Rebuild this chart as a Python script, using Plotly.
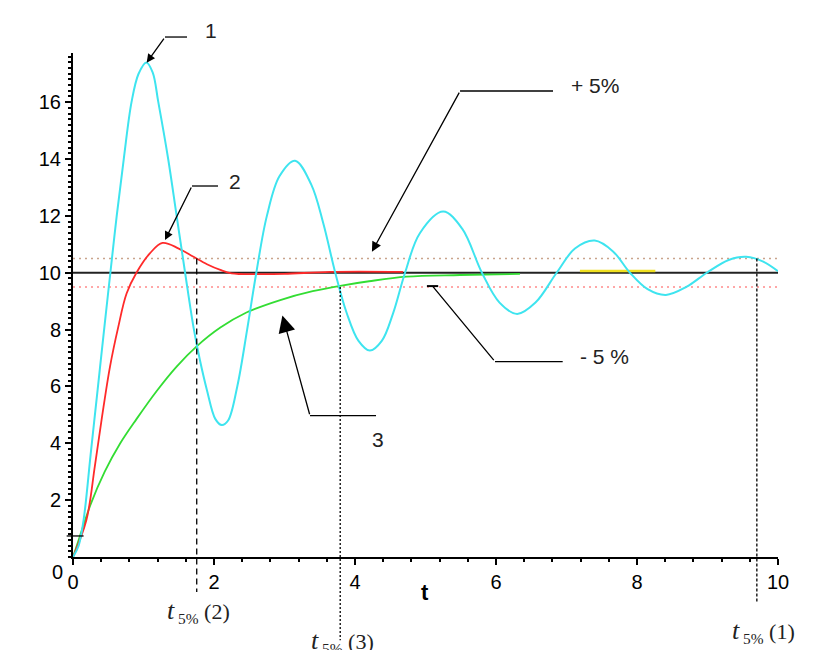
import plotly.graph_objects as go

# ---------------- data ----------------
t_cyan = [0, 0.08, 0.15, 0.25, 0.35, 0.45, 0.53, 0.62, 0.72, 0.83, 0.93, 1.04, 1.13, 1.21,
          1.35, 1.47, 1.59, 1.71, 1.80, 1.90, 2.02, 2.11, 2.20, 2.33, 2.47, 2.60, 2.75, 2.93, 3.15,
          3.38, 3.55, 3.72, 3.88, 4.05, 4.21, 4.38, 4.54, 4.71, 4.92, 5.25, 5.52, 5.80, 6.05,
          6.30, 6.56, 6.86, 7.12, 7.40, 7.66, 7.90, 8.15, 8.41, 8.70, 8.99, 9.30, 9.55, 9.79, 10.0]
y_cyan = [0, 0.4, 1.3, 3.6, 5.9, 8.2, 10.0, 12.0, 14.0, 16.0, 17.0, 17.4, 17.05, 16.0,
          14.0, 12.0, 10.0, 8.07, 6.93, 5.87, 4.85, 4.64, 4.8, 6.0, 8.0, 10.0, 12.0, 13.4, 13.94,
          13.1, 11.74, 10.0, 8.6, 7.6, 7.26, 7.6, 8.57, 10.0, 11.39, 12.15, 11.55, 10.0, 8.95,
          8.55, 8.95, 10.0, 10.85, 11.13, 10.75, 10.0, 9.42, 9.22, 9.5, 10.0, 10.45, 10.56, 10.39, 10.05]

t_red = [0, 0.19, 0.31, 0.41, 0.525, 0.64, 0.76, 0.90, 1.09, 1.27, 1.50, 1.71, 1.90, 2.09, 2.25,
         2.60, 3.00, 3.65, 4.68]
y_red = [0, 1.3, 3.2, 4.9, 6.7, 8.07, 9.27, 10.0, 10.68, 11.05, 10.85, 10.56, 10.3, 10.1, 9.98,
         9.95, 9.96, 10.03, 10.03]

t_green = [0, 0.10, 0.25, 0.45, 0.67, 0.90, 1.19, 1.47, 1.75, 2.09, 2.46, 2.94, 3.40, 3.79, 4.20,
           4.73, 5.49, 6.34]
y_green = [0, 0.75, 1.85, 3.0, 4.0, 4.85, 5.85, 6.7, 7.4, 8.07, 8.6, 9.04, 9.35, 9.54, 9.7,
           9.86, 9.92, 9.96]

t_yellow = [7.19, 8.26]
y_yellow = [10.06, 10.06]

setpoint = 10.0
band_upper = 10.5
band_lower = 9.5
t_span = [0, 10]

settle_times = [9.70, 1.755, 3.79]          # t5%(1), t5%(2), t5%(3)
settle_labels = ["(1)", "(2)", "(3)"]

x_ticks = [0, 2, 4, 6, 8, 10]
y_ticks = [2, 4, 6, 8, 10, 12, 14, 16]

XMAX = 10.0
YMAX = 17.73

# ---------------- figure ----------------
def px(t):
    return t / XMAX

def py(v):
    return v / YMAX

fig = go.Figure()

fig.add_trace(go.Scatter(x=t_span, y=[band_upper] * 2, mode="lines",
                         line=dict(color="#c9a48c", width=1.5, dash="2px,4px")))
fig.add_trace(go.Scatter(x=t_span, y=[band_lower] * 2, mode="lines",
                         line=dict(color="#ff8a8a", width=1.5, dash="2px,4px")))
fig.add_trace(go.Scatter(x=t_span, y=[setpoint] * 2, mode="lines",
                         line=dict(color="#222222", width=2)))
fig.add_trace(go.Scatter(x=t_green, y=y_green, mode="lines", line_shape="spline",
                         line=dict(color="#33dd33", width=1.8)))
fig.add_trace(go.Scatter(x=t_red, y=y_red, mode="lines", line_shape="spline",
                         line=dict(color="#ff2a2a", width=1.8)))
fig.add_trace(go.Scatter(x=t_yellow, y=y_yellow, mode="lines",
                         line=dict(color="#f0e020", width=2.5)))
fig.add_trace(go.Scatter(x=t_cyan, y=y_cyan, mode="lines", line_shape="spline",
                         line=dict(color="#3ee4ef", width=2)))

shapes = []
# vertical settling-time lines
vl_styles = [("3px,2px", -0.0913, band_upper), ("6px,4px", -0.0694, band_upper), ("2px,2px", -0.165, band_lower)]
for ts, (dash, ybot, ytop) in zip(settle_times, vl_styles):
    shapes.append(dict(type="line", xref="paper", yref="paper", x0=px(ts), x1=px(ts),
                       y0=py(ytop), y1=ybot, line=dict(color="black", width=1.3, dash=dash)))

# horizontal leader segments of the callouts (paper coords)
leaders = [(0.1305, 0.1617, 1.0317), (0.1688, 0.2057, 0.7361), (0.549, 0.6809, 0.9246),
           (0.5986, 0.6946, 0.3875), (0.3362, 0.4298, 0.2804)]
for x0, x1, yy in leaders:
    shapes.append(dict(type="line", xref="paper", yref="paper", x0=x0, x1=x1, y0=yy, y1=yy,
                       line=dict(color="black", width=1.3)))
# T-bar end of the -5% pointer
shapes.append(dict(type="line", xref="paper", yref="paper", x0=0.502, x1=0.518,
                   y0=py(9.53), y1=py(9.53), line=dict(color="black", width=2)))
# small stub near origin
shapes.append(dict(type="line", xref="paper", yref="paper", x0=-0.009, x1=0.015,
                   y0=py(0.74), y1=py(0.74), line=dict(color="black", width=1.3)))

annotations = []
# diagonal arrows (head, tail in data coords)
arrows = [((1.045, 17.39), (1.305, 18.29), 2, 1.3),
          ((1.305, 11.15), (1.688, 13.05), 2, 1.3),
          ((4.24, 10.74), (5.49, 16.39), 2, 1.5),
          ((5.10, 9.53), (5.986, 6.87), 0, 1.0),
          ((2.97, 8.50), (3.362, 4.97), 2, 2.6)]
for (hx, hy), (tx, ty), head, size in arrows:
    annotations.append(dict(x=hx, y=hy, xref="x", yref="y", ax=tx, ay=ty, axref="x", ayref="y",
                            text="", showarrow=True, arrowhead=head, arrowsize=size,
                            arrowwidth=1.3, arrowcolor="black"))

sans = "Liberation Sans, Arial, sans-serif"
serif = "Liberation Serif, Times New Roman, serif"
labels = [("1", 0.1957, 1.0456), ("2", 0.2298, 0.7447), ("+ 5%", 0.7404, 0.9365),
          ("- 5 %", 0.7546, 0.3974), ("3", 0.4322, 0.2335)]
for txt, xx, yy in labels:
    annotations.append(dict(x=xx, y=yy, xref="paper", yref="paper", text=txt, showarrow=False,
                            font=dict(family=sans, size=21, color="#222222"),
                            xanchor="center", yanchor="middle"))

# settling-time labels
label_pos = [(0.980, -0.147), (0.1787, -0.109), (0.3816, -0.168)]
for lab, (xx, yy) in zip(settle_labels, label_pos):
    annotations.append(dict(x=xx, y=yy, xref="paper", yref="paper", showarrow=False,
                            text="<i style='font-size:26px'>t</i>"
                                 "<sub style='font-size:12px'> 5%</sub> " + lab,
                            font=dict(family=serif, size=22, color="#222222"),
                            xanchor="center", yanchor="middle"))

# axis title "t" and the y-axis zero label
annotations.append(dict(x=0.499, y=-0.0714, xref="paper", yref="paper", text="<b>t</b>",
                        showarrow=False, xanchor="center", yanchor="middle",
                        font=dict(family=sans, size=22, color="black")))
annotations.append(dict(x=-0.0213, y=-0.0298, xref="paper", yref="paper", text="0",
                        showarrow=False, xanchor="center", yanchor="middle",
                        font=dict(family=sans, size=20, color="black")))

fig.update_layout(
    width=816, height=642,
    margin=dict(l=65, r=46, t=45, b=93),
    paper_bgcolor="white", plot_bgcolor="white",
    showlegend=False,
    shapes=shapes,
    annotations=annotations,
    xaxis=dict(range=[0, XMAX], tickvals=x_ticks, showgrid=False, zeroline=False,
               showline=True, linecolor="black", linewidth=2,
               ticks="outside", ticklen=6, tickwidth=1.5, tickcolor="black",
               minor=dict(dtick=0.4, tick0=0, ticklen=3, tickcolor="black", ticks="outside"),
               tickfont=dict(family=sans, size=20, color="black")),
    yaxis=dict(range=[0, YMAX], tickvals=y_ticks, showgrid=False, zeroline=False,
               showline=True, linecolor="black", linewidth=2,
               ticks="outside", ticklen=6, tickwidth=1.5, tickcolor="black",
               minor=dict(dtick=0.2, tick0=0, ticklen=3, tickcolor="black", ticks="outside"),
               tickfont=dict(family=sans, size=20, color="black")),
)

fig.write_html("out.html")
